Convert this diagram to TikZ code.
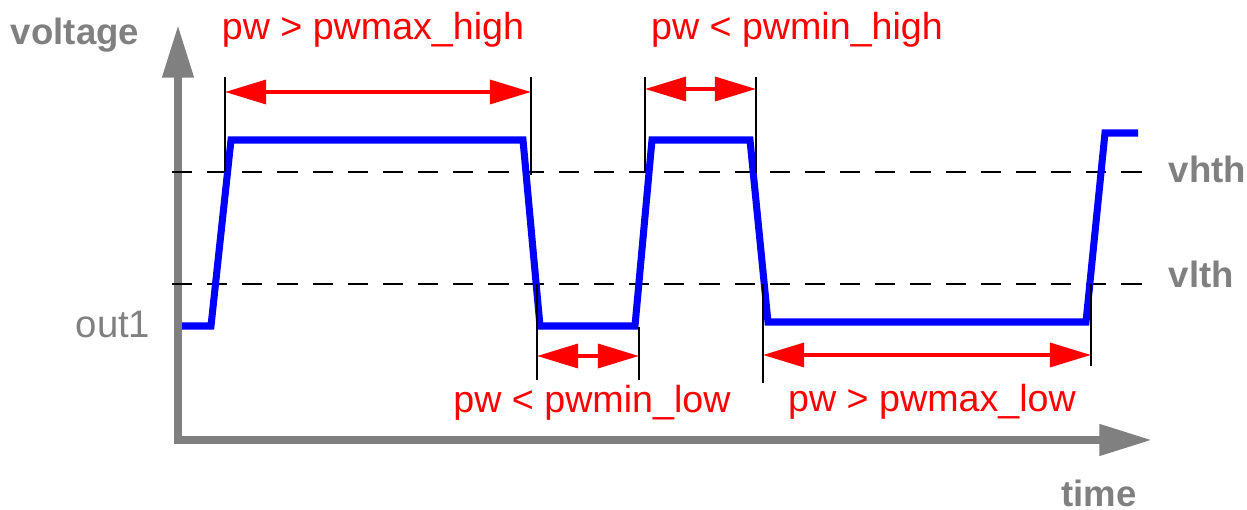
\documentclass[tikz,border=0pt]{standalone}
\usepackage{fontspec}
\setmainfont{Liberation Sans}
\usetikzlibrary{arrows.meta}

\begin{document}
\begin{tikzpicture}
[
	x=0.01cm, y=-0.01cm,
	axis/.style={draw=gray,line width=2.3pt,line cap=rect,-{Triangle[length=15pt,width=8.5pt]}},
	signal/.style={draw=blue,line width=2pt},
	thresh/.style={dash pattern=on 5.7pt off 4.3pt,line width=0.6pt},
	tickline/.style={line width=0.6pt},
	span/.style={red,line width=1.1pt,{Triangle[length=11.7pt,width=6.8pt]}-{Triangle[length=11.7pt,width=6.8pt]}},
	graylbl/.style={text=gray,inner sep=0pt,font=\fontsize{10.4}{12}\selectfont\bfseries},
	redlbl/.style={text=red,inner sep=0pt,font=\fontsize{10.7}{13}\selectfont}
]

	\useasboundingbox (0,0) rectangle (1247,510);

	\coordinate (o) at (178,440);
	\draw[axis] (o) -- (178,25);
	\draw[axis] (o) -- (1152,440);

	\node[graylbl,anchor=base] at (75,45) (volt) {voltage};
	\node[graylbl,anchor=base] at (1099,507) (time) {time};
	\node[graylbl,anchor=base west] at (1168,183) (vh) {vhth};
	\node[graylbl,anchor=base west] at (1168,288) (vl) {vlth};
	\node[text=gray,inner sep=0pt,font=\fontsize{10.9}{13}\selectfont,anchor=base east] at (151,338) (out) {out1};

	\draw[thresh] (172,172) -- (1150,172);
	\draw[thresh] (172,284) -- (1150,284);

	\draw[signal] (182,326) -- (211,326) -- (231,140) -- (523,140) -- (540,326)
		-- (635,326) -- (652,140) -- (750,140) -- (768,322) -- (1086,322)
		-- (1105,133) -- (1138,133);

	% upper widths
	\coordinate (h1) at (225,92);
	\coordinate (h2) at (531,92);
	\coordinate (h3) at (645,89);
	\coordinate (h4) at (756,89);
	\draw[tickline] (225,77) -- (225,172);
	\draw[tickline] (531,77) -- (531,175);
	\draw[tickline] (645,77) -- (645,173);
	\draw[tickline] (756,77) -- (756,173);
	\draw[span] (h1) -- (h2);
	\draw[span] (h3) -- (h4);

	% lower widths
	\coordinate (l1) at (537,356);
	\coordinate (l2) at (639,356);
	\coordinate (l3) at (763,355);
	\coordinate (l4) at (1091,355);
	\draw[tickline] (537,284) -- (537,380);
	\draw[tickline] (639,327) -- (639,380);
	\draw[tickline] (763,284) -- (763,383);
	\draw[tickline] (1091,284) -- (1091,366);
	\draw[span] (l1) -- (l2);
	\draw[span] (l3) -- (l4);

	\node[redlbl,anchor=base] at (373,40) (maxhi) {pw > pwmax\_high};
	\node[redlbl,anchor=base] at (797,40) (minhi) {pw < pwmin\_high};
	\node[redlbl,anchor=base] at (592,413) (minlo) {pw < pwmin\_low};
	\node[redlbl,anchor=base] at (932,412) (maxlo) {pw > pwmax\_low};

\end{tikzpicture}
\end{document}
